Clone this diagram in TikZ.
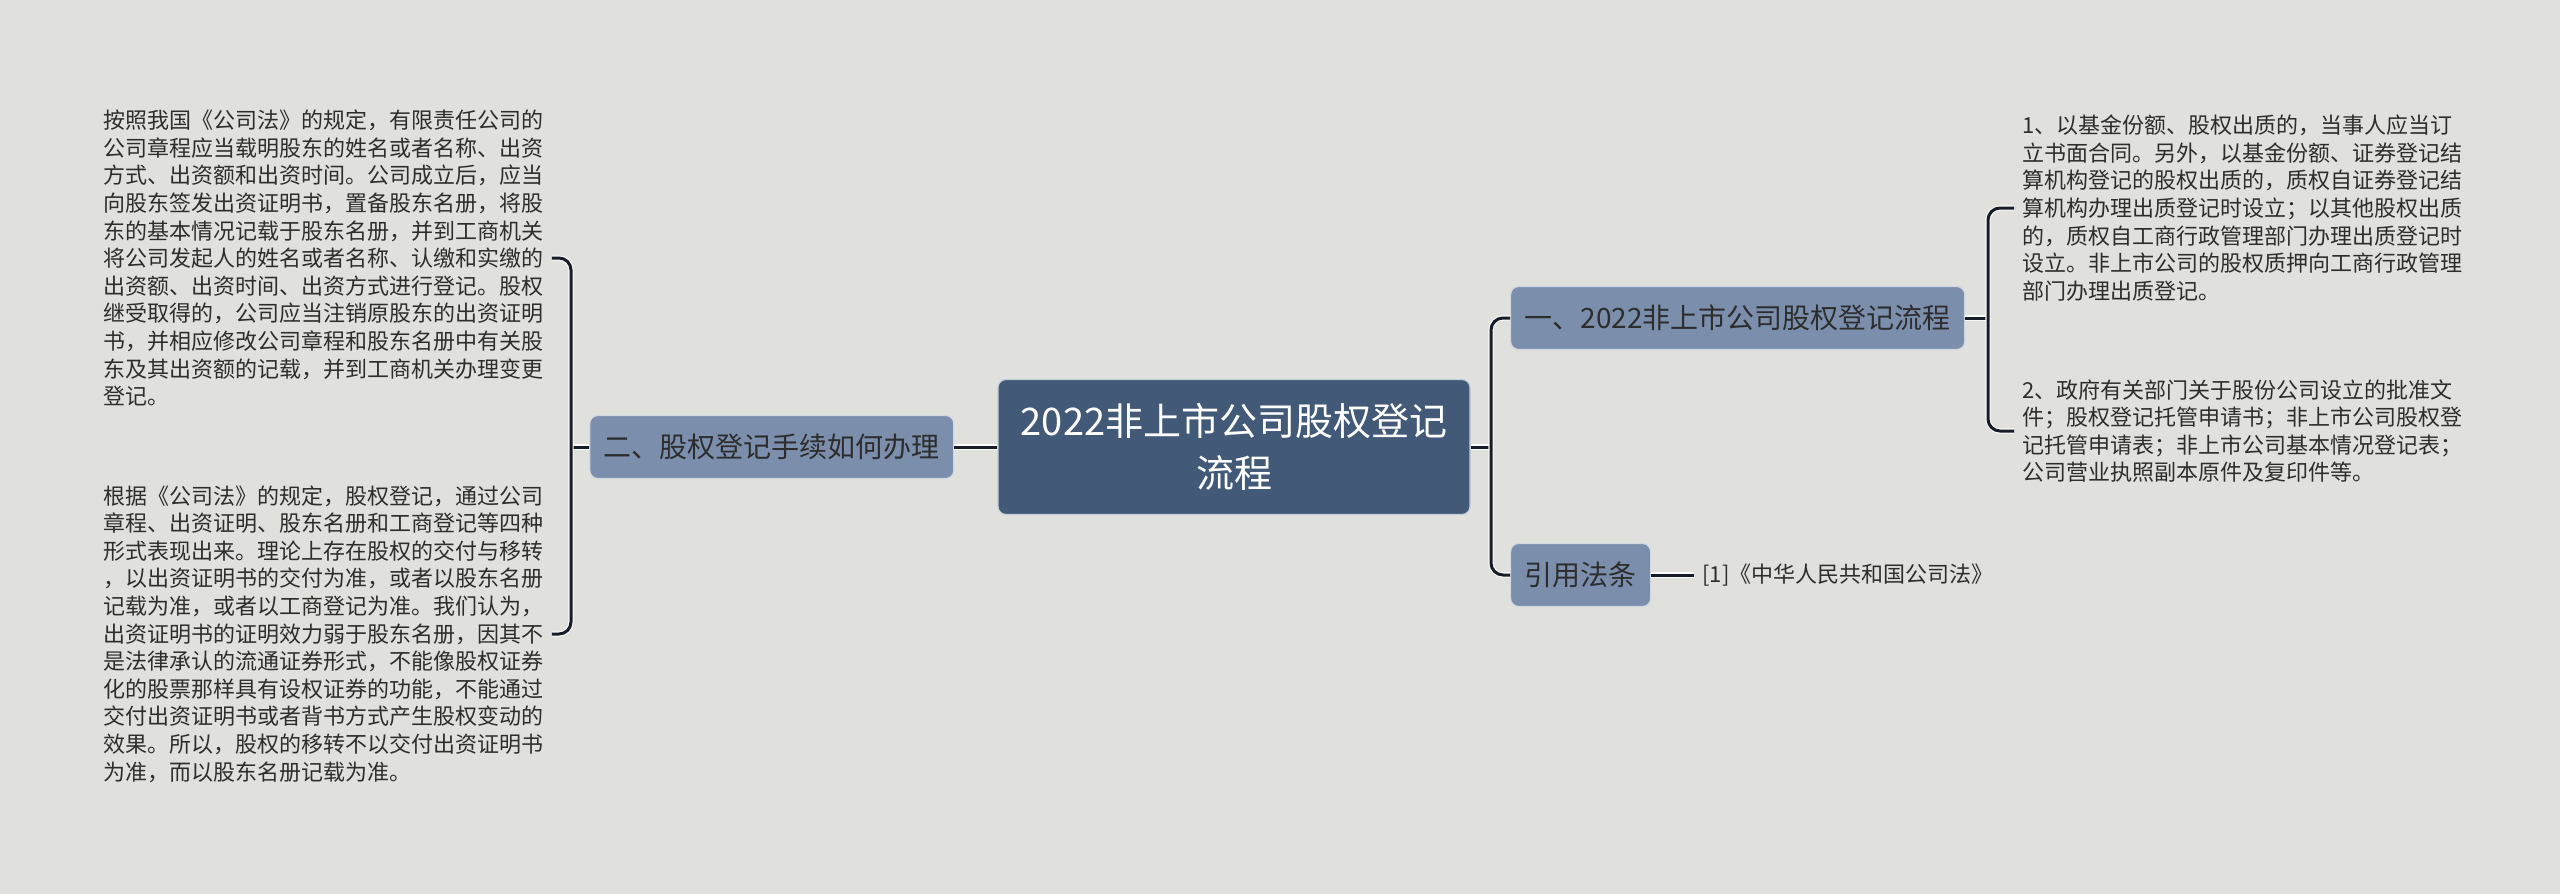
\documentclass[tikz,border=0pt]{standalone}
\usepackage{fontspec}
\setmainfont{Noto Sans CJK SC}
\usetikzlibrary{positioning}
\definecolor{fondo}{RGB}{224,225,220}
\definecolor{raizc}{RGB}{66,89,120}
\definecolor{ramac}{RGB}{123,143,173}
\definecolor{lineac}{RGB}{22,28,40}
\definecolor{textoc}{RGB}{45,45,45}
\tikzset{
  raiz/.style={rectangle, rounded corners=4pt, draw=white!55!ramac, line width=0.6pt,
    fill=raizc, text=white, minimum width=236pt, minimum height=67.5pt,
    align=center, font=\fontsize{19pt}{26pt}\selectfont},
  rama/.style={rectangle, rounded corners=4pt, draw=white!65!ramac, line width=0.6pt,
    fill=ramac, text=textoc, minimum height=31.5pt, inner xsep=7pt,
    font=\fontsize{14pt}{17pt}\selectfont},
  hoja/.style={align=left, inner xsep=4pt, inner ysep=2pt, text=textoc,
    font=\fontsize{11pt}{13.8pt}\selectfont},
  enlace/.style={draw=lineac, line width=1.5pt, rounded corners=6pt,
    preaction={draw=white!80!fondo, line width=2.6pt}}
}
\begin{document}
\begin{tikzpicture}[x=0.5pt, y=-0.5pt]
  \fill[fondo] (0,0) rectangle (2560,894);
  \node[raiz] (raiz) at (1234,447) {2022非上市公司股权登记\\流程};
  \node[rama, left=21.5pt of raiz] (tramite) {二、股权登记手续如何办理};
  \node[rama, anchor=west] (flujo) at (1510,318) {一、2022非上市公司股权登记流程};
  \node[rama, anchor=west] (ley) at (1510,575) {引用法条};
  \node[hoja, anchor=west] (cita) at (1694,575) {[1]《中华人民共和国公司法》};
  \node[hoja, anchor=west] (base) at (95,258)
    {按照我国《公司法》的规定，有限责任公司的\\
     公司章程应当载明股东的姓名或者名称、出资\\
     方式、出资额和出资时间。公司成立后，应当\\
     向股东签发出资证明书，置备股东名册，将股\\
     东的基本情况记载于股东名册，并到工商机关\\
     将公司发起人的姓名或者名称、认缴和实缴的\\
     出资额、出资时间、出资方式进行登记。股权\\
     继受取得的，公司应当注销原股东的出资证明\\
     书，并相应修改公司章程和股东名册中有关股\\
     东及其出资额的记载，并到工商机关办理变更\\
     登记。};
  \node[hoja, anchor=west] (forma) at (95,634)
    {根据《公司法》的规定，股权登记，通过公司\\
     章程、出资证明、股东名册和工商登记等四种\\
     形式表现出来。理论上存在股权的交付与移转\\
     ，以出资证明书的交付为准，或者以股东名册\\
     记载为准，或者以工商登记为准。我们认为，\\
     出资证明书的证明效力弱于股东名册，因其不\\
     是法律承认的流通证券形式，不能像股权证券\\
     化的股票那样具有设权证券的功能，不能通过\\
     交付出资证明书或者背书方式产生股权变动的\\
     效果。所以，股权的移转不以交付出资证明书\\
     为准，而以股东名册记载为准。};
  \node[hoja, anchor=west] (prenda) at (2014,208)
    {1、以基金份额、股权出质的，当事人应当订\\
     立书面合同。另外，以基金份额、证券登记结\\
     算机构登记的股权出质的，质权自证券登记结\\
     算机构办理出质登记时设立；以其他股权出质\\
     的，质权自工商行政管理部门办理出质登记时\\
     设立。非上市公司的股权质押向工商行政管理\\
     部门办理出质登记。};
  \node[hoja, anchor=west] (docs) at (2014,431)
    {2、政府有关部门关于股份公司设立的批准文\\
     件；股权登记托管申请书；非上市公司股权登\\
     记托管申请表；非上市公司基本情况登记表；\\
     公司营业执照副本原件及复印件等。};
  \coordinate (izq) at (571,447);
  \coordinate (der) at (1491,447);
  \coordinate (der2) at (1988,318);
  % conectores
  \draw[enlace] (raiz) -- (tramite);
  \draw[enlace] (tramite.west) -- (izq);
  \draw[enlace] (base.east) -| (izq) |- (forma.east);
  \draw[enlace] (raiz.east) -- (der);
  \draw[enlace] (flujo.west) -| (der) |- (ley.west);
  \draw[enlace] (flujo.east) -- (der2);
  \draw[enlace] (prenda.west) -| (der2) |- (docs.west);
  \draw[enlace] (ley) -- (cita);
\end{tikzpicture}
\end{document}
